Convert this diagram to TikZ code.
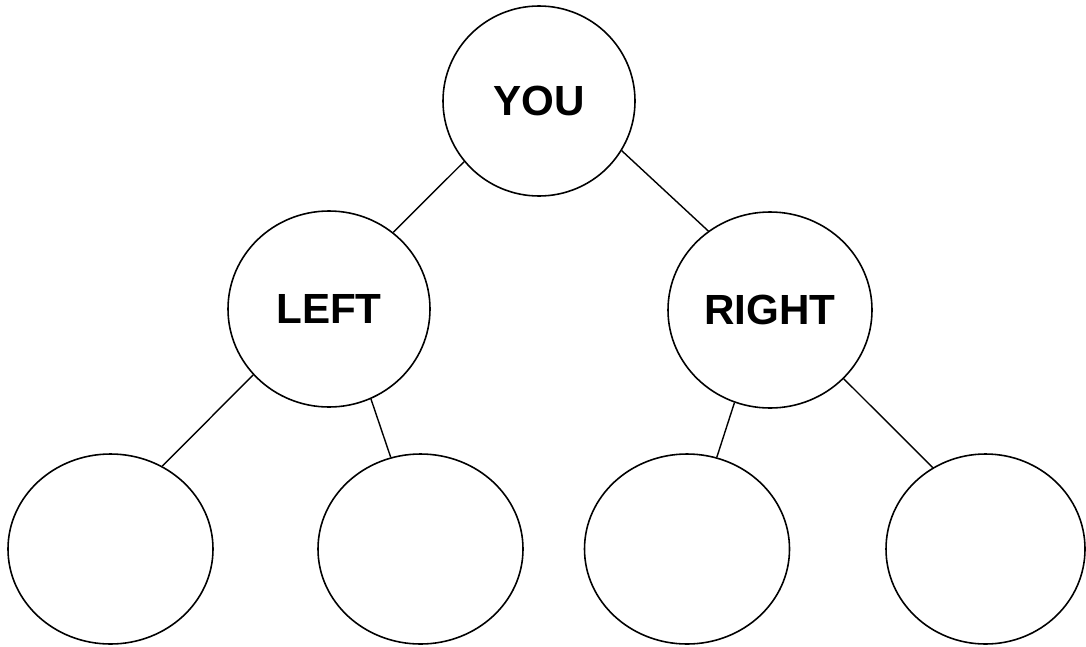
\documentclass[tikz,border=0pt]{standalone}
\usepackage{fontspec}
\setmainfont{Liberation Sans}
\usetikzlibrary{shapes.geometric}

\begin{document}
\begin{tikzpicture}[
    bubble/.style={draw, ellipse, line width=0.45pt, inner sep=0pt,
      font=\bfseries\fontsize{12}{14}\selectfont},
    leaf/.style={bubble, minimum width=2.05cm, minimum height=1.90cm},
    branch/.style={line width=0.4pt}
  ]
  \useasboundingbox (0,0) rectangle (10.86,6.46);

  % === Root ===
  \node[bubble, minimum width=1.92cm, minimum height=1.90cm] (you) at (5.39,5.45) {YOU};

  % === Level 1 ===
  \node[bubble, minimum width=2.02cm, minimum height=1.96cm] (left) at (3.29,3.37) {LEFT};
  \node[bubble, minimum width=2.04cm, minimum height=1.96cm] (right) at (7.70,3.36) {RIGHT};

  % === Level 2: empty leaves ===
  \node[leaf] (leafA) at (1.105,0.97) {};
  \node[leaf] (leafB) at (4.205,0.97) {};
  \node[leaf] (leafC) at (6.87,0.97) {};
  \node[leaf, minimum width=1.99cm] (leafD) at (9.855,0.97) {};

  % Edges
  \draw[branch] (you.219) -- (left.50);
  \draw[branch] (you.329) -- (right.128);
  \draw[branch] (left.221) -- (leafA.58);
  \draw[branch] (left.295) -- (leafB.108);
  \draw[branch] (right.249) -- (leafC.72);
  \draw[branch] (right.317) -- (leafD.123);
\end{tikzpicture}
\end{document}
